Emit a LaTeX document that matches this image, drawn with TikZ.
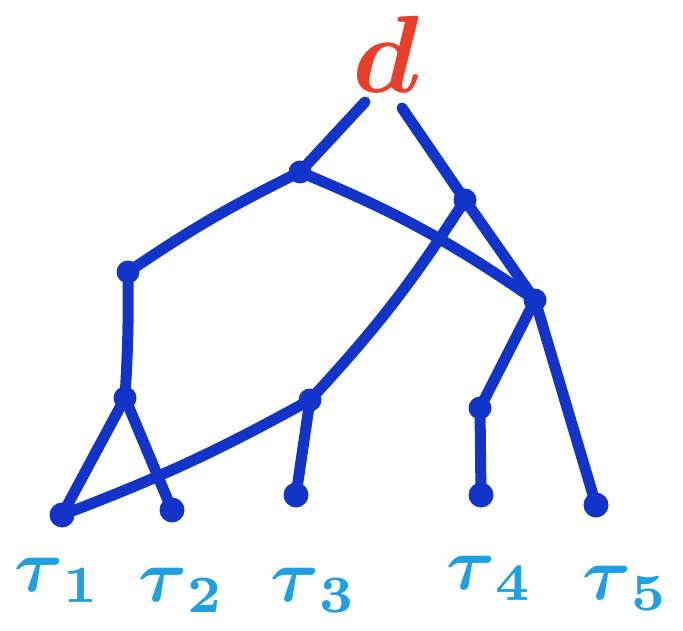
\documentclass[tikz,border=0pt]{standalone}
\usepackage{amsmath}
\definecolor{edgeblue}{RGB}{18,52,200}
\definecolor{rootred}{RGB}{232,62,42}
\definecolor{labcyan}{RGB}{30,160,226}
\newcommand{\leaftext}[1]{\scalebox{7.5}{$\boldsymbol{\tau}_{\mathbf{#1}}$}}
\begin{document}
\begin{tikzpicture}[x=1pt,y=-1pt,
  edge/.style={draw=edgeblue,line width=11pt,line cap=round,line join=round},
  dot/.style={circle,fill=edgeblue,inner sep=0pt,minimum size=23pt},
  leafdot/.style={circle,fill=edgeblue,inner sep=0pt,minimum size=25pt},
  leaflab/.style={text=labcyan,inner sep=0pt},
  rootlab/.style={text=rootred,inner sep=0pt}]
\useasboundingbox (0,0) rectangle (683,631);
% root
\node[rootlab] (root) at (386,54) {\scalebox{11}{$\boldsymbol{d}$}};
\coordinate (rl) at (365,102);
\coordinate (rr) at (402,108);
% internal nodes
\node[dot] (A) at (300,172) {};
\node[dot] (B) at (465,200) {};
\node[dot] (C) at (128,272) {};
\node[dot] (D) at (535,300) {};
\node[dot] (E) at (125,398) {};
\node[dot] (F) at (310,400) {};
\node[dot] (G) at (480,408) {};
% leaves
\node[leafdot] (t1) at (62,515) {};
\node[leafdot] (t2) at (172,510) {};
\node[leafdot] (t3) at (296,495) {};
\node[leafdot] (t4) at (481,495) {};
\node[leafdot] (t5) at (596,505) {};
% labels
\node[leaflab] (l1) at (58,580) {\leaftext{1}};
\node[leaflab] (l2) at (182,590) {\leaftext{2}};
\node[leaflab] (l3) at (314,590) {\leaftext{3}};
\node[leaflab] (l4) at (490,578) {\leaftext{4}};
\node[leaflab] (l5) at (626,588) {\leaftext{5}};
% edges
\draw[edge] (rl) -- (A.center);
\draw[edge] (rr) -- (B.center);
\draw[edge] (A.center) to[bend right=4] (C.center);
\draw[edge] (A.center) to[bend left=6] (D.center);
\draw[edge] (B.center) -- (D.center);
\draw[edge] (B.center) to[bend left=5] (F.center);
\draw[edge] (C.center) to[bend left=2] (E.center);
\draw[edge] (E.center) -- (t1.center);
\draw[edge] (E.center) -- (t2.center);
\draw[edge] (F.center) to[bend left=4] (t1.center);
\draw[edge] (F.center) -- (t3.center);
\draw[edge] (D.center) -- (G.center);
\draw[edge] (G.center) -- (t4.center);
\draw[edge] (D.center) -- (t5.center);
\end{tikzpicture}
\end{document}
